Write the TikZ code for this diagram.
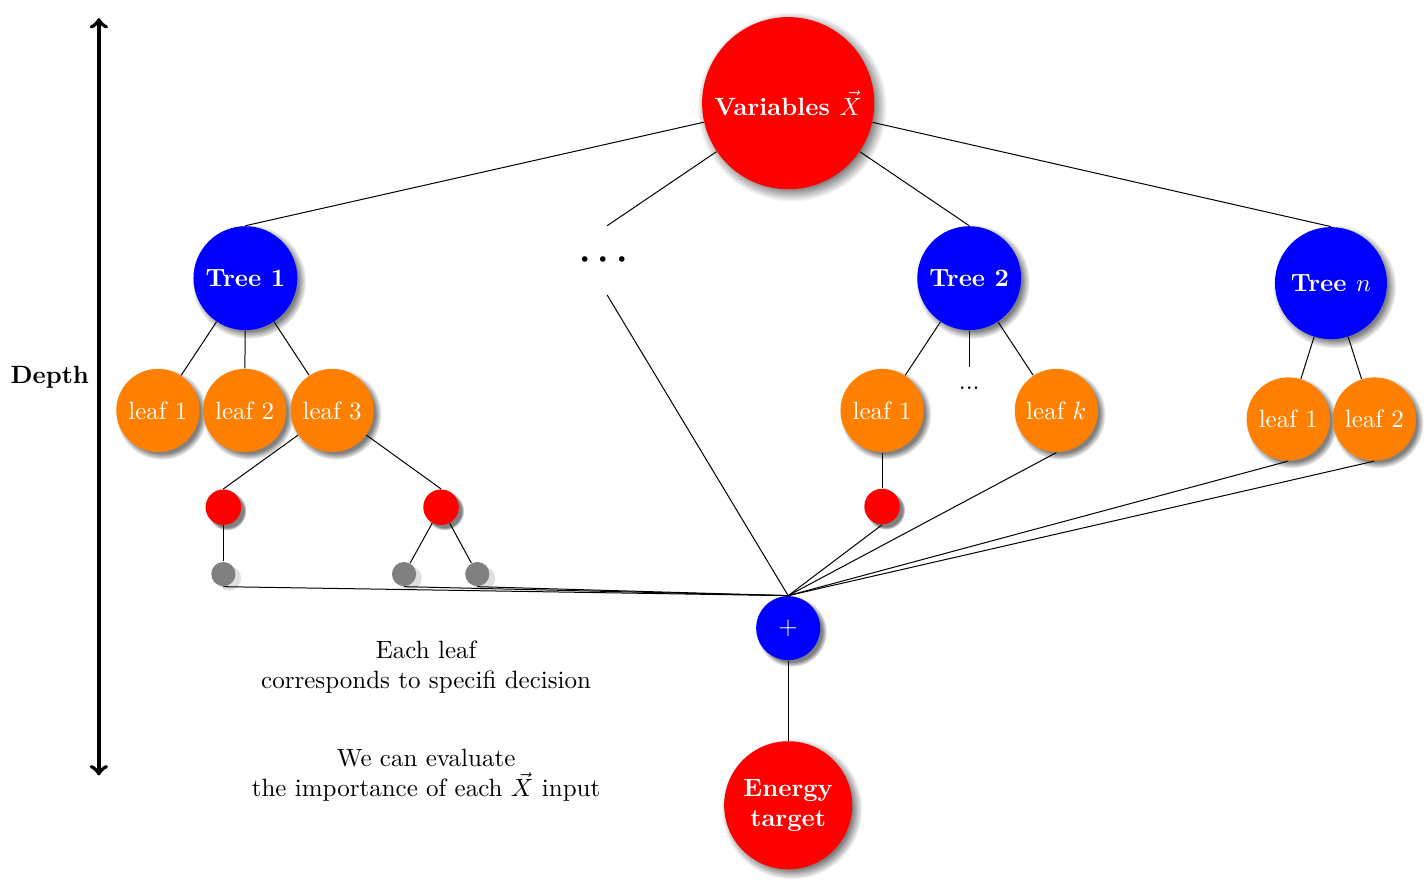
\documentclass[tikz,border=0pt]{standalone}
\usepackage{amsmath}
\usepackage{xcolor}
\usepackage{tikz}
\usetikzlibrary{arrows,shadows}

\begin{document}
\begin{tikzpicture}
    \tikzstyle{circ}=[circle,inner sep=0pt,circular drop shadow,text=white,font=\bfseries,align=center]
    \tikzstyle{var}=[circ,fill=red]
    \tikzstyle{tree}=[circ,fill=blue,minimum size=1.46cm]
    \tikzstyle{leaf}=[circ,fill=orange,minimum size=1.17cm,font=\normalfont]
    \tikzstyle{split}=[circle,fill=red,minimum size=0.5cm,circular drop shadow]
    \tikzstyle{term}=[circle,fill=gray,minimum size=0.34cm,drop shadow={opacity=0.25,shadow xshift=0.08cm,shadow yshift=-0.06cm}]
    \tikzstyle{lbl}=[align=center]

    \useasboundingbox (-11.08,1.45) rectangle (8.98,-11.04);

    % inputs and output
    \node[var,minimum size=2.42cm] (var) at (0,0) {Variables $\vec{X}$};
    \node[circ,fill=blue,minimum size=0.9cm,font=\normalfont] (sum) at (0,-7.38) {$+$};
    \node[var,minimum size=1.8cm] (nrj) at (0,-9.87) {Energy\\target};

    % trees
    \node[tree] (t1) at (-7.63,-2.46) {Tree 1};
    \node[minimum height=0.96cm,font=\Large] (dots) at (-2.545,-2.21) {$\boldsymbol{\cdots}$};
    \node[tree] (t2) at (2.545,-2.46) {Tree 2};
    \node[tree,minimum size=1.575cm] (tn) at (7.63,-2.53) {Tree $n$};

    % leaves
    \node[leaf] (l11) at (-8.86,-4.32) {leaf 1};
    \node[leaf] (l12) at (-7.64,-4.32) {leaf 2};
    \node[leaf] (l13) at (-6.41,-4.32) {leaf 3};
    \node[leaf] (l21) at ( 1.32,-4.32) {leaf 1};
    \node[minimum height=0.56cm] (d2) at (2.545,-4.0) {...};
    \node[leaf] (l2k) at ( 3.77,-4.32) {leaf $k$};
    \node[leaf] (ln1) at ( 7.03,-4.44) {leaf 1};
    \node[leaf] (ln2) at ( 8.24,-4.44) {leaf 2};

    % decisions
    \node[split] (s1) at (-7.94,-5.68) {};
    \node[split] (s2) at (-4.88,-5.68) {};
    \node[split] (s3) at ( 1.32,-5.67) {};
    \node[term] (g1) at (-7.94,-6.62) {};
    \node[term] (g2) at (-5.40,-6.62) {};
    \node[term] (g3) at (-4.37,-6.62) {};

    \draw (var) -- (t1.north);
    \draw (var) -- (dots.north);
    \draw (var) -- (t2.north);
    \draw (var) -- (tn.north);

    \draw (t1) -- (l11);
    \draw (t1) -- (l12);
    \draw (t1) -- (l13);
    \draw (l13) -- (s1.north);
    \draw (l13) -- (s2.north);
    \draw (s1) -- (g1);
    \draw (s2) -- (g2);
    \draw (s2) -- (g3);

    \draw (t2) -- (l21);
    \draw (t2) -- (d2);
    \draw (t2) -- (l2k);
    \draw (l21) -- (s3);

    \draw (tn) -- (ln1);
    \draw (tn) -- (ln2);

    \foreach \n in {g1,g2,g3,s3,l2k,ln1,ln2}
        \draw (\n.south) -- (sum.north);
    \draw (dots.south) -- (sum.north);
    \draw (sum) -- (nrj);

    % depth axis
    \coordinate (dtop) at (-9.69,1.195);
    \coordinate (dbot) at (-9.69,-9.45);
    \draw[<->,ultra thick] (dtop) -- (dbot);
    \node[font=\bfseries] (depth) at (-10.38,-3.85) {Depth};

    \node[lbl] (note1) at (-5.09,-7.93) {Each leaf\\corresponds to specifi decision};
    \node[lbl] (note2) at (-5.09,-9.45) {We can evaluate\\the importance of each $\vec{X}$ input};
\end{tikzpicture}
\end{document}
